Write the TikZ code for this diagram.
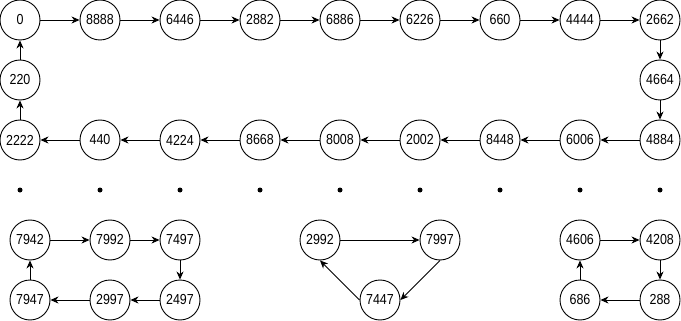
\documentclass[tikz,border=0pt]{standalone}
\usepackage{fontspec}
\setmainfont{Liberation Sans}
\newfontfamily\narrowsans[FakeStretch=0.86]{Liberation Sans}
\usetikzlibrary{arrows.meta}
\begin{document}
\begin{tikzpicture}[x=1pt,y=-1pt,
  numnode/.style={circle,draw,line width=0.9pt,minimum size=40pt,inner sep=0pt,font=\narrowsans\fontsize{14.5}{16}\selectfont},
  link/.style={line width=0.9pt,-{Stealth[length=8pt,width=7pt,inset=2.5pt]}},
  dotmark/.style={circle,fill,inner sep=0pt,minimum size=5pt}]
\useasboundingbox (0,0) rectangle (681,321);
% top row
\node[numnode] (n0) at (20,20) {0};
\node[numnode] (n8888) at (100,20) {8888};
\node[numnode] (n6446) at (180,20) {6446};
\node[numnode] (n2882) at (260,20) {2882};
\node[numnode] (n6886) at (340,20) {6886};
\node[numnode] (n6226) at (420,20) {6226};
\node[numnode] (n660) at (500,20) {660};
\node[numnode] (n4444) at (580,20) {4444};
\node[numnode] (n2662) at (660,20) {2662};
% middle
\node[numnode] (n220) at (20,80) {220};
\node[numnode] (n4664) at (660,80) {4664};
% third row
\node[numnode] (n2222) at (20,140) {2222};
\node[numnode] (n440) at (100,140) {440};
\node[numnode] (n4224) at (180,140) {4224};
\node[numnode] (n8668) at (260,140) {8668};
\node[numnode] (n8008) at (340,140) {8008};
\node[numnode] (n2002) at (420,140) {2002};
\node[numnode] (n8448) at (500,140) {8448};
\node[numnode] (n6006) at (580,140) {6006};
\node[numnode] (n4884) at (660,140) {4884};
% dots
\foreach \i/\x in {1/20,2/100,3/180,4/260,5/340,6/420,7/500,8/580,9/660}
  \node[dotmark] (d\i) at (\x,190) {};
% bottom left group
\node[numnode] (n7942) at (30,240) {7942};
\node[numnode] (n7992) at (110,240) {7992};
\node[numnode] (n7497) at (180,240) {7497};
\node[numnode] (n7947) at (30,300) {7947};
\node[numnode] (n2997) at (110,300) {2997};
\node[numnode] (n2497) at (180,300) {2497};
% bottom middle group
\node[numnode] (n2992) at (320,240) {2992};
\node[numnode] (n7997) at (440,240) {7997};
\node[numnode] (n7447) at (380,300) {7447};
% bottom right group
\node[numnode] (n4606) at (580,240) {4606};
\node[numnode] (n4208) at (660,240) {4208};
\node[numnode] (n686) at (580,300) {686};
\node[numnode] (n288) at (660,300) {288};
% big cycle
\draw[link] (n0) -- (n8888);
\draw[link] (n8888) -- (n6446);
\draw[link] (n6446) -- (n2882);
\draw[link] (n2882) -- (n6886);
\draw[link] (n6886) -- (n6226);
\draw[link] (n6226) -- (n660);
\draw[link] (n660) -- (n4444);
\draw[link] (n4444) -- (n2662);
\draw[link] (n2662) -- (n4664);
\draw[link] (n4664) -- (n4884);
\draw[link] (n4884) -- (n6006);
\draw[link] (n6006) -- (n8448);
\draw[link] (n8448) -- (n2002);
\draw[link] (n2002) -- (n8008);
\draw[link] (n8008) -- (n8668);
\draw[link] (n8668) -- (n4224);
\draw[link] (n4224) -- (n440);
\draw[link] (n440) -- (n2222);
\draw[link] (n2222) -- (n220);
\draw[link] (n220) -- (n0);
% left cycle
\draw[link] (n7942) -- (n7992);
\draw[link] (n7992) -- (n7497);
\draw[link] (n7497) -- (n2497);
\draw[link] (n2497) -- (n2997);
\draw[link] (n2997) -- (n7947);
\draw[link] (n7947) -- (n7942);
% middle cycle
\draw[link] (n2992) -- (n7997);
\draw[link] (n7997.south) -- (n7447.east);
\draw[link] (n7447.west) -- (n2992.south);
% right cycle
\draw[link] (n4606) -- (n4208);
\draw[link] (n4208) -- (n288);
\draw[link] (n288) -- (n686);
\draw[link] (n686) -- (n4606);
\end{tikzpicture}
\end{document}
